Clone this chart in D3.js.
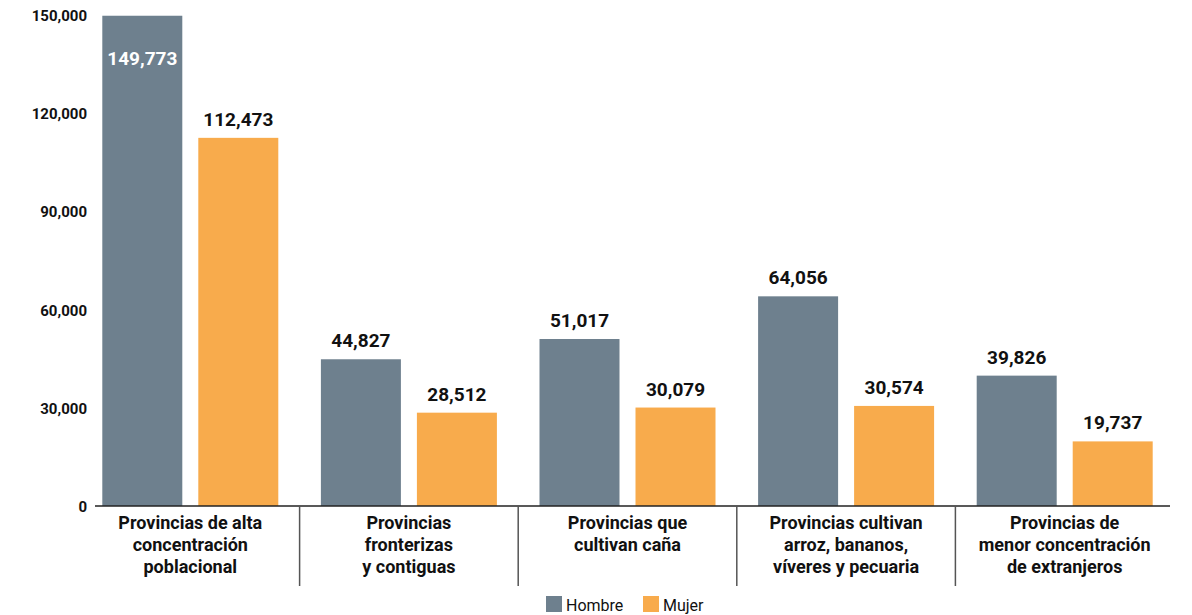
<!DOCTYPE html>
<html>
<head>
<meta charset="utf-8">
<script src="https://cdn.jsdelivr.net/npm/d3@7"></script>
<style>
  html, body { margin: 0; padding: 0; background: #fff; }
  svg { display: block; font-family: Roboto, "Noto Sans", sans-serif; }
</style>
</head>
<body>
<svg id="chart" width="1192" height="615"></svg>
<script>
// Region groups (each label split into lines)
const categories = [
  ["Provincias de alta", "concentración", "poblacional"],
  ["Provincias", "fronterizas", "y contiguas"],
  ["Provincias que", "cultivan caña"],
  ["Provincias cultivan", "arroz, bananos,", "víveres y pecuaria"],
  ["Provincias de", "menor concentración", "de extranjeros"]
];
const seriesNames = ["Hombre", "Mujer"];
const hombre = [149773, 44827, 51017, 64056, 39826];
const mujer = [112473, 28512, 30079, 30574, 19737];
const yTicks = [0, 30000, 60000, 90000, 120000, 150000];
const colors = ["#6e808e", "#f8ab4c"];

const svg = d3.select("#chart");
const baseY = 506, topY = 15;
const x0 = d3.scaleBand().domain(d3.range(categories.length)).range([81, 1174]).paddingInner(0).paddingOuter(0);
const pairW = 176;
const x1 = d3.scaleBand().domain(seriesNames)
  .range([(x0.bandwidth() - pairW) / 2, (x0.bandwidth() + pairW) / 2])
  .paddingInner(1 / 6);
const y = d3.scaleLinear().domain([0, 150000]).range([baseY, topY]);
const fmt = d3.format(",");

// Y axis labels
const yAxis = d3.axisLeft(y).tickValues(yTicks).tickFormat(fmt).tickSize(0).tickPadding(0);
const ya = svg.append("g").attr("transform", "translate(87,0)").call(yAxis);
ya.select(".domain").remove();
ya.selectAll("text")
  .attr("font-family", "Roboto, sans-serif")
  .attr("font-size", 15).attr("font-weight", 700).attr("fill", "#111")
  .attr("dy", "0.36em");

// Bars
const rows = categories.map((c, i) => ({ i, values: [hombre[i], mujer[i]] }));
const groups = svg.append("g").selectAll("g").data(rows).join("g")
  .attr("transform", d => `translate(${x0(d.i)},0)`);

groups.selectAll("rect").data(d => d.values.map((v, k) => ({ v, k })))
  .join("rect")
  .attr("x", d => x1(seriesNames[d.k]))
  .attr("width", x1.bandwidth())
  .attr("y", d => y(d.v))
  .attr("height", d => baseY - y(d.v))
  .attr("fill", d => colors[d.k]);

// Value labels: inside the bar when it reaches the top of the scale
groups.selectAll("text.val").data(d => d.values.map((v, k) => ({ v, k })))
  .join("text").attr("class", "val")
  .attr("x", d => x1(seriesNames[d.k]) + x1.bandwidth() / 2)
  .attr("y", d => y(d.v) > 60 ? y(d.v) - 12 : y(d.v) + 49)
  .attr("text-anchor", "middle")
  .attr("font-size", 19).attr("font-weight", 700)
  .attr("fill", d => y(d.v) > 60 ? "#111" : "#fff")
  .text(d => fmt(d.v));

// Baseline
svg.append("line")
  .attr("x1", 95).attr("x2", 1170).attr("y1", baseY).attr("y2", baseY)
  .attr("stroke", "#222").attr("stroke-width", 1.5);

// Group separators
svg.append("g").selectAll("line").data(d3.range(1, categories.length)).join("line")
  .attr("x1", i => x0(i)).attr("x2", i => x0(i))
  .attr("y1", baseY).attr("y2", 586)
  .attr("stroke", "#555").attr("stroke-width", 1.5);

// Category labels
svg.append("g").selectAll("text").data(categories).join("text")
  .attr("x", (d, i) => x0(i) + x0.bandwidth() / 2)
  .attr("y", 529)
  .attr("text-anchor", "middle")
  .attr("font-size", 18).attr("font-weight", 700).attr("fill", "#111")
  .selectAll("tspan").data(d => d).join("tspan")
  .attr("x", function () { return this.parentNode.getAttribute("x"); })
  .attr("dy", (d, j) => j === 0 ? 0 : 22)
  .text(d => d);

// Legend
const legendItems = [{ name: "Hombre", x: 546 }, { name: "Mujer", x: 643 }];
const lg = svg.append("g").selectAll("g").data(legendItems).join("g")
  .attr("transform", d => `translate(${d.x},596)`);
lg.append("rect").attr("width", 16).attr("height", 16)
  .attr("fill", (d, i) => colors[i]);
lg.append("text").attr("x", 20).attr("y", 15)
  .attr("font-size", 16).attr("fill", "#111")
  .text(d => d.name);
</script>
</body>
</html>
